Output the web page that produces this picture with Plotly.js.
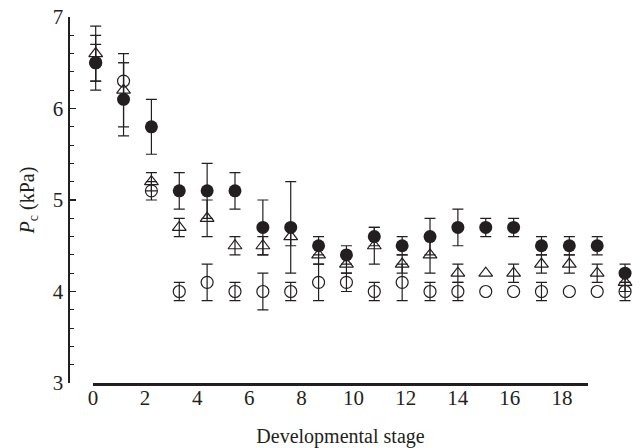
<!DOCTYPE html>
<html>
<head>
<meta charset="utf-8">
<script src="https://cdn.plot.ly/plotly-3.0.1.min.js"></script>
<style>html,body{margin:0;padding:0;background:#fff;}#chart{width:640px;height:448px;}</style>
</head>
<body>
<div id="chart"></div>
<script>
var stage = [0,1,2,3,4,5,6,7,8,9,10,11,12,13,14,15,16,17,18,19];

var filledVals = [6.5,6.1,5.8,5.1,5.1,5.1,4.7,4.7,4.5,4.4,4.6,4.5,4.6,4.7,4.7,4.7,4.5,4.5,4.5,4.2];
var filledErr  = [0.3,0.4,0.3,0.2,0.3,0.2,0.3,0.5,0.1,0.1,0.1,0.1,0.2,0.2,0.1,0.1,0.1,0.1,0.1,0.1];

var triVals = [6.6,6.2,5.2,4.7,4.8,4.5,4.5,4.6,4.4,4.3,4.5,4.3,4.4,4.2,4.2,4.2,4.3,4.3,4.2,4.1];
var triErr  = [0.3,0.4,0.1,0.1,0.2,0.1,0.1,0.1,0.1,0.1,0.2,0.1,0.2,0.1,NaN,0.1,0.1,0.1,0.1,0.1];

var openVals = [6.5,6.3,5.1,4.0,4.1,4.0,4.0,4.0,4.1,4.1,4.0,4.1,4.0,4.0,4.0,4.0,4.0,4.0,4.0,4.0];
var openErr  = [0.2,0.2,0.1,0.1,0.2,0.1,0.2,0.1,0.2,0.1,0.1,0.2,0.1,0.1,NaN,NaN,0.1,NaN,NaN,0.1];

var xTickVals = [0,2,4,6,8,10,12,14,16,18];
var yTickVals = [3,4,5,6,7];

var ink = '#231f20';
var serif = 'Liberation Serif';

function errObj(arr) {
  return {type: 'data', array: arr, visible: true, color: ink, thickness: 1.2, width: 5.5};
}

var traces = [
  // invisible carrier so the tick axis (x) has its own subplot
  {x: stage, y: filledVals, xaxis: 'x', yaxis: 'y', mode: 'markers',
   marker: {opacity: 0, size: 1}, hoverinfo: 'skip', showlegend: false},
  {x: stage, y: openVals, xaxis: 'x2', yaxis: 'y', mode: 'markers', cliponaxis: false,
   marker: {symbol: 'circle-open', size: 12, color: ink, line: {color: ink, width: 1.2}},
   error_y: errObj(openErr)},
  {x: stage, y: triVals, xaxis: 'x2', yaxis: 'y', mode: 'markers', cliponaxis: false,
   marker: {symbol: 'triangle-up-open', size: 12, color: ink, line: {color: ink, width: 1.2}},
   error_y: errObj(triErr)},
  {x: stage, y: filledVals, xaxis: 'x2', yaxis: 'y', mode: 'markers', cliponaxis: false,
   marker: {symbol: 'circle', size: 13, color: ink, line: {width: 0}},
   error_y: errObj(filledErr)}
];

var plotW = 566;
var layout = {
  width: 640, height: 448,
  margin: {l: 70, r: 4, t: 17, b: 65},
  paper_bgcolor: '#fff', plot_bgcolor: '#fff',
  showlegend: false,
  font: {family: serif, size: 20, color: ink},
  xaxis: {
    domain: [23/plotW, 518/plotW], anchor: 'y', range: [0, 19],
    showline: true, linewidth: 2.5, linecolor: ink,
    ticks: 'inside', ticklen: 7, tickwidth: 1.3, tickcolor: ink,
    tickmode: 'array', tickvals: xTickVals, ticktext: xTickVals.map(String),
    minor: {ticks: 'inside', ticklen: 7, tickwidth: 1.3, tickcolor: ink, dtick: 1, showgrid: false},
    showgrid: false, zeroline: false,
    tickfont: {family: serif, size: 21, color: ink},
    ticklabelstandoff: -6,
    title: {text: 'Developmental stage', font: {family: serif, size: 20, color: ink}, standoff: 22}
  },
  xaxis2: {
    domain: [0, 1], anchor: 'y', range: [-0.922, 19.393],
    visible: false, showgrid: false, zeroline: false
  },
  yaxis: {
    domain: [0, 1], anchor: 'x2', range: [3, 7],
    showline: true, linewidth: 2.5, linecolor: ink,
    ticks: 'inside', ticklen: 6, tickwidth: 1.3, tickcolor: ink,
    tickmode: 'array', tickvals: yTickVals, ticktext: yTickVals.map(String),
    minor: {ticks: 'inside', ticklen: 4, tickwidth: 1.1, tickcolor: ink, dtick: 0.2, showgrid: false},
    showgrid: false, zeroline: false,
    tickfont: {family: serif, size: 21, color: ink},
    title: {text: '<i>P</i><sub>c</sub> (kPa)', font: {family: serif, size: 20, color: ink}, standoff: 13}
  }
};

Plotly.newPlot('chart', traces, layout, {displayModeBar: false, staticPlot: true});
</script>
</body>
</html>
